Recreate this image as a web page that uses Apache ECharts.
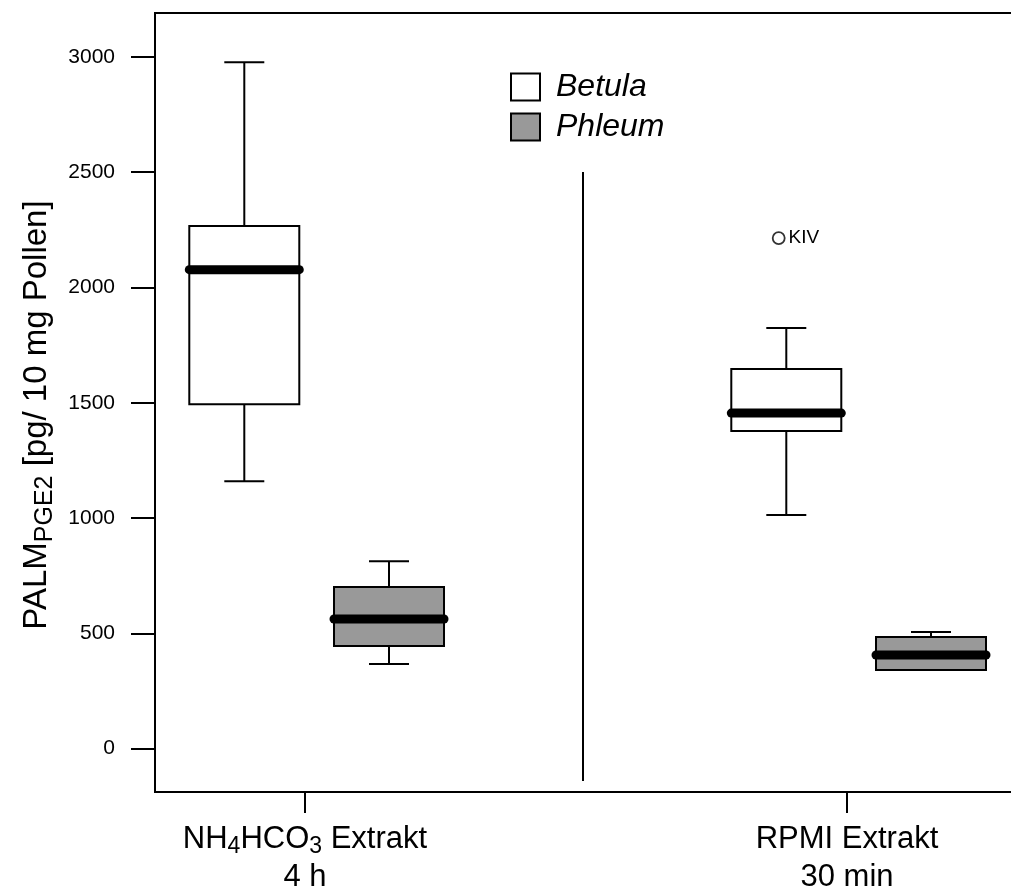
<!DOCTYPE html>
<html>
<head>
<meta charset="utf-8">
<script src="https://cdn.jsdelivr.net/npm/echarts@6/dist/echarts.min.js"></script>
<style>
  html, body { margin: 0; padding: 0; background: #ffffff; }
  #chart { width: 1011px; height: 891px; }
</style>
</head>
<body>
<div id="chart"></div>
<script>
// ---- data ----
const categories = ['NH4HCO3 Extrakt, 4 h', 'RPMI Extrakt, 30 min'];
const categoryLabels = [
  '{t|NH}{s|4}{t|HCO}{s|3}{t| Extrakt}\n{t|4 h}',
  '{t|RPMI Extrakt}\n{t|30 min}'
];
const groupPositions = [1, 2];
const seriesNames = ['Betula', 'Phleum'];
const yTicks = [0, 500, 1000, 1500, 2000, 2500, 3000];

const betulaMin    = [1160, 1013];
const betulaQ1     = [1493, 1377];
const betulaMedian = [2077, 1455];
const betulaQ3     = [2266, 1646];
const betulaMax    = [2976, 1824];

const phleumMin    = [367, 340];
const phleumQ1     = [445, 341];
const phleumMedian = [562, 406];
const phleumQ3     = [701, 484];
const phleumMax    = [813, 506];

const outlierGroup = [1];      // index into categories
const outlierValue = [2214];
const outlierLabel = ['KIV'];

// ---- layout / style ----
const FONT = "'Liberation Sans', Arial, sans-serif";
const BETULA_OFFSET = -0.112;
const PHLEUM_OFFSET = 0.155;
const OUTLIER_OFFSET = -0.126;
const BOX_HALF = 55;
const CAP_HALF = 20;

function boxData(mins, q1s, meds, q3s, maxs, offset) {
  return groupPositions.map((g, i) => [g + offset, mins[i], q1s[i], meds[i], q3s[i], maxs[i]]);
}

function makeRender(fill) {
  return function (params, api) {
    const x = api.value(0);
    const pMin = api.coord([x, api.value(1)]);
    const pQ1 = api.coord([x, api.value(2)]);
    const pMed = api.coord([x, api.value(3)]);
    const pQ3 = api.coord([x, api.value(4)]);
    const pMax = api.coord([x, api.value(5)]);
    const cx = pMed[0];
    const ls = { stroke: '#000', lineWidth: 2 };
    const children = [];
    if (pQ3[1] - pMax[1] > 0.5) {
      children.push({ type: 'line', shape: { x1: cx, y1: pQ3[1], x2: cx, y2: pMax[1] }, style: ls });
      children.push({ type: 'line', shape: { x1: cx - CAP_HALF, y1: pMax[1], x2: cx + CAP_HALF, y2: pMax[1] }, style: ls });
    }
    if (pMin[1] - pQ1[1] > 0.5) {
      children.push({ type: 'line', shape: { x1: cx, y1: pQ1[1], x2: cx, y2: pMin[1] }, style: ls });
      children.push({ type: 'line', shape: { x1: cx - CAP_HALF, y1: pMin[1], x2: cx + CAP_HALF, y2: pMin[1] }, style: ls });
    }
    children.push({
      type: 'rect',
      shape: { x: cx - BOX_HALF, y: pQ3[1], width: 2 * BOX_HALF, height: pQ1[1] - pQ3[1] },
      style: { fill: fill, stroke: '#000', lineWidth: 2 }
    });
    children.push({
      type: 'line',
      shape: { x1: cx - BOX_HALF, y1: pMed[1], x2: cx + BOX_HALF, y2: pMed[1] },
      style: { stroke: '#000', lineWidth: 9, lineCap: 'round' }
    });
    return { type: 'group', children: children };
  };
}

const chart = echarts.init(document.getElementById('chart'), null, { renderer: 'canvas' });

const xRich = {
  t: { fontSize: 31, lineHeight: 38, fontFamily: FONT, color: '#000' },
  s: { fontSize: 23, lineHeight: 16, verticalAlign: 'bottom', fontFamily: FONT, color: '#000' }
};
const yRich = {
  t: { fontSize: 33, lineHeight: 40, fontFamily: FONT, color: '#000' },
  s: { fontSize: 25, lineHeight: 18, verticalAlign: 'bottom', fontFamily: FONT, color: '#000' }
};

const option = {
  backgroundColor: '#ffffff',
  animation: false,
  textStyle: { fontFamily: FONT },
  grid: {
    left: 155, right: -20, top: 13, bottom: 99,
    show: true, borderColor: '#000', borderWidth: 2, backgroundColor: 'transparent',
    containLabel: false, outerBoundsMode: 'none'
  },
  legend: {
    orient: 'vertical', left: 510, top: 71, padding: 0,
    itemWidth: 29, itemHeight: 27, itemGap: 8, icon: 'rect',
    selectedMode: false,
    textStyle: { fontSize: 32, fontStyle: 'italic', fontFamily: FONT, color: '#000', padding: [0, 0, 0, 11] },
    data: [
      { name: seriesNames[0], itemStyle: { color: '#ffffff', borderColor: '#000', borderWidth: 2 } },
      { name: seriesNames[1], itemStyle: { color: '#999999', borderColor: '#000', borderWidth: 2 } }
    ]
  },
  xAxis: {
    type: 'value',
    min: 0.72325, max: 2.33949,
    splitLine: { show: false },
    axisLine: { show: true, onZero: false, lineStyle: { color: '#000', width: 2 } },
    axisTick: { show: true, customValues: groupPositions, length: 21, lineStyle: { color: '#000', width: 2 } },
    axisLabel: {
      show: true, customValues: groupPositions, margin: 28,
      formatter: function (v) { return categoryLabels[groupPositions.indexOf(Math.round(v))]; },
      rich: xRich, color: '#000'
    }
  },
  yAxis: {
    type: 'value',
    min: -188, max: 3190,
    splitLine: { show: false },
    axisLine: { show: true, onZero: false, lineStyle: { color: '#000', width: 2 } },
    axisTick: { show: true, customValues: yTicks, length: 24, lineStyle: { color: '#000', width: 2 } },
    axisLabel: {
      show: true, customValues: yTicks, margin: 40, fontSize: 21, fontFamily: FONT, color: '#000',
      formatter: function (v) { return String(v); }
    },
    name: '{t|PALM}{s|PGE2}{t| [pg/ 10 mg Pollen]}',
    nameLocation: 'middle',
    nameRotate: 90,
    nameGap: 82,
    nameTextStyle: { rich: yRich, padding: [0, 25, 0, 0] }
  },
  graphic: [
    { type: 'line', shape: { x1: 583, y1: 172, x2: 583, y2: 781 }, style: { stroke: '#000', lineWidth: 2 }, z: 10 }
  ],
  series: [
    {
      name: seriesNames[0], type: 'custom',
      itemStyle: { color: '#ffffff', borderColor: '#000' },
      renderItem: makeRender('#ffffff'),
      encode: { x: 0, y: [1, 2, 3, 4, 5] },
      data: boxData(betulaMin, betulaQ1, betulaMedian, betulaQ3, betulaMax, BETULA_OFFSET)
    },
    {
      name: seriesNames[1], type: 'custom',
      itemStyle: { color: '#999999', borderColor: '#000' },
      renderItem: makeRender('#999999'),
      encode: { x: 0, y: [1, 2, 3, 4, 5] },
      data: boxData(phleumMin, phleumQ1, phleumMedian, phleumQ3, phleumMax, PHLEUM_OFFSET)
    },
    {
      name: 'Ausreißer', type: 'scatter',
      symbol: 'circle', symbolSize: 12,
      itemStyle: { color: '#ffffff', borderColor: '#000', borderWidth: 1.8 },
      label: {
        show: true, position: 'right', distance: 3, opacity: 1,
        formatter: function (p) { return outlierLabel[p.dataIndex]; },
        fontSize: 19, fontFamily: FONT, color: '#000000'
      },
      data: outlierGroup.map((g, i) => [groupPositions[g] + OUTLIER_OFFSET, outlierValue[i]])
    }
  ]
};

chart.setOption(option);
</script>
</body>
</html>
